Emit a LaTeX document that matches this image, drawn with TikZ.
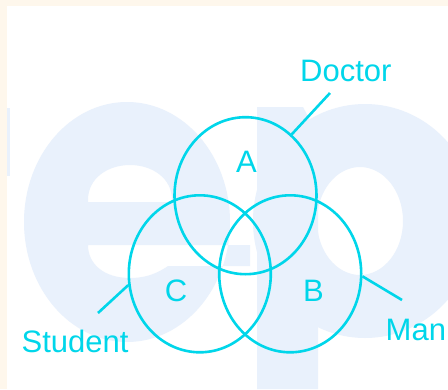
\documentclass[tikz,border=0pt]{standalone}
\usepackage{fontspec}
\setmainfont{Liberation Sans}
\usetikzlibrary{shapes.geometric}
\definecolor{vcyan}{RGB}{0,214,234}
\definecolor{wmark}{RGB}{233,241,252}
\definecolor{cream}{RGB}{254,247,236}
\tikzset{
  setring/.style={ellipse, draw=vcyan, line width=2.6pt, minimum width=142pt, minimum height=157pt, inner sep=0pt},
  lbl/.style={text=vcyan, inner sep=0pt, font=\fontsize{31}{36}\selectfont},
  leader/.style={draw=vcyan, line width=2.6pt}
}
\begin{document}
\begin{tikzpicture}[x=1pt,y=-1pt]
\useasboundingbox (0,0) rectangle (448,389);
% background and border
\fill[white] (0,0) rectangle (448,389);
\fill[cream] (0,0) rectangle (448,6);
\fill[cream] (0,0) rectangle (7,389);
% watermark "ep"
\begin{scope}
\clip (7,6) rectangle (448,389);
\fill[wmark] (7,108) rectangle (10,176);
% e
\fill[wmark, even odd rule] (127,222) ellipse [x radius=103, y radius=120]
  (88,202) -- (88,200) .. controls (88,178) and (108,165) .. (130,165) .. controls (152,165) and (172,178) .. (172,200) -- (172,202) -- cycle
  (88,245) -- (250,245) -- (250,266) -- (168,266) .. controls (155,275) and (143,278) .. (130,278) .. controls (104,278) and (88,264) .. (88,245) -- cycle;
% p
\fill[wmark, even odd rule] (365,221) ellipse [x radius=112, y radius=117]
  (360,221) ellipse [x radius=43, y radius=54];
\fill[wmark] (257,107) -- (303,107) -- (318,135) -- (318,389) -- (257,389) -- cycle;
\end{scope}
% sets
\node[setring] (A) at (245.5,195.7) {};
\node[setring] (C) at (199.8,273.8) {};
\node[setring] (B) at (290.2,273.8) {};
% letters
\node[lbl, anchor=base] (la) at (246.5,172) {A};
\node[lbl, anchor=base] (lc) at (176,301) {C};
\node[lbl, anchor=base] (lb) at (313.5,301) {B};
% labels
\node[lbl, anchor=base west] (doctor) at (300,81) {Doctor};
\node[lbl, anchor=base west] (student) at (21.5,352) {Student};
\node[lbl, anchor=base west] (man) at (385.5,340) {Man};
% leaders
\coordinate (dend) at (330,93);
\coordinate (send) at (98,313);
\coordinate (mend) at (402,300);
\draw[leader] (A.53) -- (dend);
\draw[leader] (C.189) -- (send);
\draw[leader] (B.-2) -- (mend);
\end{tikzpicture}
\end{document}
